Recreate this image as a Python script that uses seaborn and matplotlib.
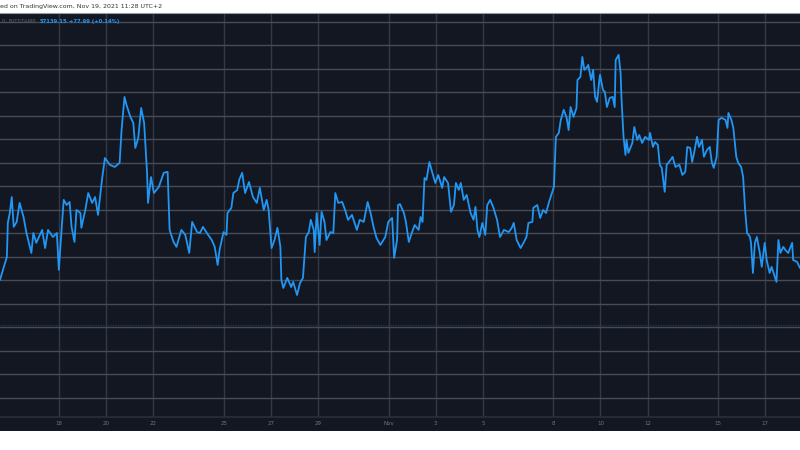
import pandas as pd
import matplotlib.pyplot as plt
import matplotlib.patches as mpatches
import seaborn as sns

# BTC/USD (Bitstamp), 30 min close
start = pd.Timestamp('2021-10-15 11:30')

hours = [0, 3, 7, 8, 10, 12, 14, 17, 20, 24,
         27, 32, 34, 37, 43, 46, 49, 54, 58, 60,
         63, 65, 68, 71, 73, 76, 78, 82, 83, 87,
         90, 94, 97, 100, 102, 104, 107, 112, 117, 122,
         124, 127, 129, 133, 136, 138, 141, 144, 147, 150,
         151, 154, 157, 162, 167, 171, 173, 177, 180, 185,
         189, 193, 196, 201, 204,
         207, 211, 216, 219, 222, 224, 228, 231, 232, 236,
         238, 242, 244, 247, 250, 254, 258, 262, 265, 269,
         272, 274, 277, 280, 283, 286, 287, 289, 293, 297,
         299, 303, 306, 309, 312, 315, 317, 320, 321, 323,
         326, 328, 331, 333, 337, 340, 342, 345, 349, 352,
         355, 359, 364, 367, 371, 375, 378, 381, 384, 388,
         393, 396, 400, 402, 405, 406, 408,
         412, 414, 417, 420, 423, 427, 429, 431, 433, 435,
         438, 441, 444, 447, 451, 453, 457, 460, 463, 465,
         468, 470, 473, 476, 480, 483, 485, 487, 489, 492,
         495, 497, 500, 503, 507, 510, 514, 519, 522, 524,
         527, 531, 534, 537, 539, 543, 544, 548, 551, 554,
         557, 560, 563, 565, 567, 570, 572, 575, 578, 580,
         582, 585, 588, 589, 592, 594, 596, 599, 600, 603,
         605, 607, 609, 611, 612,
         615, 617, 619, 622, 625, 627, 628, 631, 633, 634,
         636, 638, 639, 641, 645, 647, 650, 652, 655, 658,
         662, 663, 666, 668, 671, 673, 675, 678, 680, 684,
         686, 689, 693, 696, 699, 701, 704, 706, 708, 711,
         713, 716, 718, 721, 724, 726, 728, 731, 733, 736,
         740, 742, 743, 746, 748, 751, 753, 756, 758, 760,
         762, 765, 766, 768, 770, 772, 775, 777, 780, 782,
         785, 787, 789, 792, 794, 796, 799, 801, 804, 808,
         809, 813, 816]

prices = [56520, 56950, 57500, 58950, 59370, 60050, 58780, 58990, 59800, 59200,
          58520, 57670, 58520, 58100, 58650, 57880, 58650, 58350, 58520, 56950,
          58780, 59930, 59710, 59840, 58780, 58140, 59500, 59370, 58740, 59500,
          60220, 59800, 60050, 59290, 60050, 60780, 61710, 61420, 61330, 61500,
          62900, 64310, 63970, 63460, 63200, 62140, 62560, 63840, 63200, 61080,
          59800, 60900, 60220, 60480, 61080, 61120, 58650, 58140, 57930, 58650,
          58440, 57670, 58990, 58560, 58520,
          58780, 58520, 58220, 57930, 57160, 57800, 58560, 58440, 59370, 59590,
          60220, 60350, 60780, 61080, 60220, 60690, 60050, 59800, 60440, 59500,
          59930, 59500, 57880, 58220, 58740, 57930, 56520, 56180, 56610, 56220,
          56440, 55880, 56390, 56610, 58350, 58560, 59080, 58650, 57710, 59370,
          58010, 59420, 58990, 58220, 58560, 58520, 60220, 59800, 59840, 59500,
          59080, 59290, 58650, 59080, 58990, 59840, 59370, 58780, 58310, 58010,
          58350, 58990, 59160, 57460, 58220, 59710, 59750,
          59370, 58990, 58140, 58520, 58860, 58650, 59200, 58990, 60860, 60780,
          61540, 61080, 60650, 60990, 60440, 60900, 60650, 59420, 59710, 60650,
          60350, 60650, 59930, 60140, 59370, 59080, 59630, 58650, 58350, 58950,
          58440, 59710, 59930, 59630, 59080, 58350, 58650, 58560, 58740, 58950,
          58220, 57880, 58100, 58350, 58950, 58990, 59590, 59710, 59160, 59500,
          59370, 59840, 60220, 60480, 62610, 62780, 63330, 63760, 63420, 62900,
          63880, 63460, 63840, 65030, 65160, 66010, 65460, 65590, 65670, 65030,
          65460, 64310, 64100, 64900, 65250,
          64610, 64520, 63880, 64270, 64310, 63880, 65880, 66100, 65330, 64180,
          62610, 61840, 62480, 61930, 62350, 63030, 62480, 62690, 62350, 62610,
          62480, 62780, 62180, 62390, 62270, 61420, 61290, 60270, 61420, 61630,
          61760, 61330, 61420, 60990, 61120, 62180, 62140, 61540, 61930, 62610,
          62180, 62480, 61760, 62050, 62180, 61540, 61290, 61760, 63330, 63420,
          63330, 62990, 63630, 63330, 62990, 61760, 61500, 61330, 60900, 59500,
          58520, 58350, 58100, 56820, 58100, 58350, 57670, 57080, 58100, 57370,
          56820, 57080, 56820, 56440, 58220, 57670, 57930, 57800, 57670, 58100,
          57370, 57290, 57030]

tick_dates = ['2021-10-18', '2021-10-20', '2021-10-22', '2021-10-25', '2021-10-27',
              '2021-10-29', '2021-11-01', '2021-11-03', '2021-11-05', '2021-11-08',
              '2021-11-10', '2021-11-12', '2021-11-15', '2021-11-17']
tick_labels = ['18', '20', '22', '25', '27', '29', 'Nov', '3', '5', '8', '10', '12', '15', '17']
grid_prices = list(range(51500, 68500, 1000))
ref_price = 54600

bg = '#131722'
line_blue = '#2196f3'

df = pd.DataFrame({'time': start + pd.to_timedelta(hours, unit='h'), 'price': prices})

sns.set_style('dark')
fig = plt.figure(figsize=(8, 4.5), dpi=100, facecolor='white')

# time axis strip below the plot, drawn under the axes
fig.patches.append(mpatches.Rectangle((0, 0.042), 1, 0.0313, transform=fig.transFigure,
                                      facecolor=bg, edgecolor='none', zorder=-1))

ax = fig.add_axes([0, 0.0733, 1, 0.8978])
ax.set_facecolor(bg)

sns.lineplot(data=df, x='time', y='price', ax=ax, color=line_blue, lw=1.3,
             estimator=None, zorder=3)
ax.axhline(ref_price, color='#1f3a5c', lw=0.9, ls=(0, (1, 1)), zorder=2)

ax.set_xlim(start, start + pd.Timedelta(hours=816))
ax.set_ylim(50690, 67880)
ax.set_xticks(pd.to_datetime(tick_dates))
ax.set_xticklabels(tick_labels)
ax.set_yticks(grid_prices)
ax.tick_params(axis='x', length=0, pad=3, labelsize=4, labelcolor='#6f7380')
ax.tick_params(axis='y', left=False, labelleft=False)
ax.set_xlabel('')
ax.set_ylabel('')
ax.grid(axis='y', color='#474b56', lw=1)
ax.grid(axis='x', color='#343845', lw=1)

for side in ['left', 'right']:
    ax.spines[side].set_visible(False)
ax.spines['top'].set_color('#9a9ca3')
ax.spines['top'].set_linewidth(0.8)
ax.spines['bottom'].set_color('#2a2e39')
ax.spines['bottom'].set_linewidth(1.2)

fig.text(0.0, 0.986, 'ed on TradingView.com, Nov 19, 2021 11:28 UTC+2', fontsize=4.5,
         color='#333333', va='center', ha='left')
fig.text(0.002, 0.953, '0, BITSTAMP', fontsize=4, color='#5d606b', va='center', ha='left')
fig.text(0.049, 0.953, '57139.15', fontsize=3.8, color=line_blue, va='center', ha='left',
         fontweight='bold')
fig.text(0.086, 0.953, '+77.99 (+0.14%)', fontsize=3.8, color=line_blue, va='center', ha='left',
         fontweight='bold')

fig.savefig('out.png', dpi=100, facecolor='white')
